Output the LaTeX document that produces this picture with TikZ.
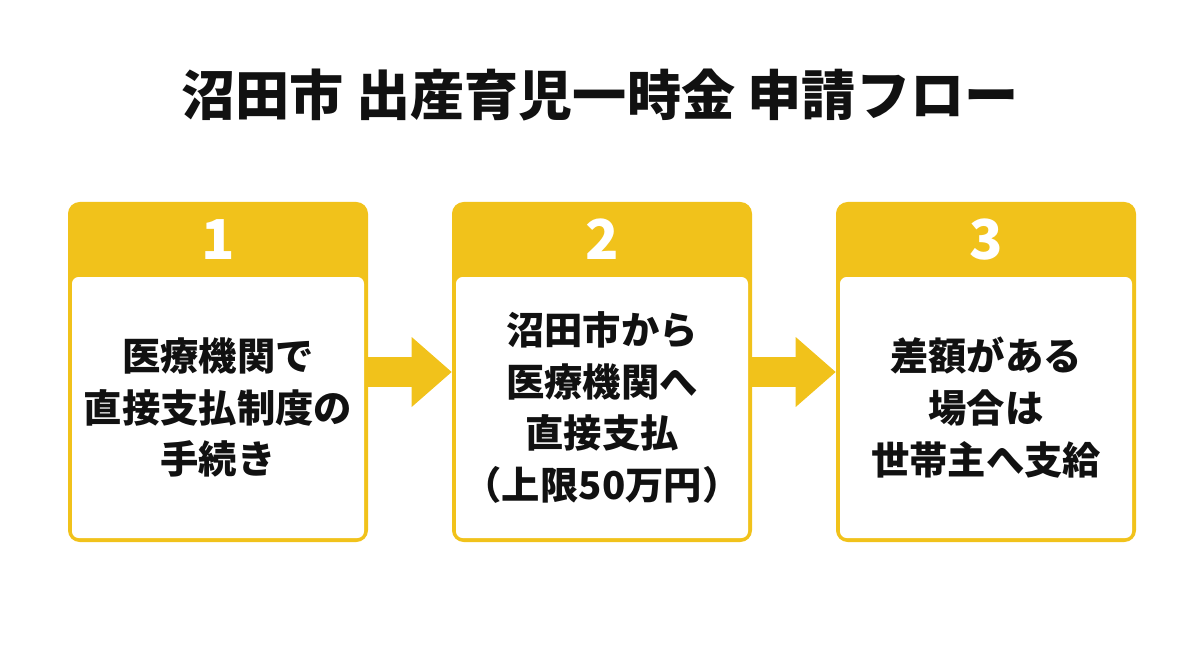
\documentclass[tikz,border=0pt]{standalone}
\usepackage{fontspec}
\setmainfont{Noto Sans CJK JP}
\usetikzlibrary{arrows.meta, positioning, calc}
\definecolor{flowyellow}{HTML}{F1C21B}
\definecolor{ink}{HTML}{111111}

\begin{document}
\begin{tikzpicture}[
  node distance=50pt,
  frame/.style={fill=flowyellow, rounded corners=7pt, minimum width=180pt, minimum height=204pt,
              inner sep=0pt},
  body/.style={fill=white, rounded corners=4pt, minimum width=175.2pt, minimum height=156.6pt,
              inner sep=0pt, align=center, text=ink, font=\fontsize{23}{31}\selectfont\bfseries},
  num/.style={text=white, font=\fontsize{33}{33}\selectfont\bfseries},
  arr/.style={draw=flowyellow, line width=18pt, -{Triangle[length=24pt, width=42pt, line width=0pt]}}
]
\useasboundingbox (0,0) rectangle (720pt,-393pt);

\node[text=ink, font=\fontsize{32.5}{36}\selectfont\bfseries] (title) at (360pt,-57pt)
  {沼田市 出産育児一時金 申請フロー};

\node[frame] (step1) at (130.8pt,-223.2pt) {};
\node[frame, right=of step1] (step2) {};
\node[frame, right=of step2] (step3) {};

\node[body, above=2.4pt of step1.south] (body1) {医療機関で\\直接支払制度の\\手続き};
\node[body, above=2.4pt of step2.south] (body2) {沼田市から\\医療機関へ\\直接支払\\（上限50万円）};
\node[body, above=2.4pt of step3.south] (body3) {差額がある\\場合は\\世帯主へ支給};

\node[num] (num1) at ($(step1.north)!0.5!(body1.north)$) {1};
\node[num] (num2) at ($(step2.north)!0.5!(body2.north)$) {2};
\node[num] (num3) at ($(step3.north)!0.5!(body3.north)$) {3};

\draw[arr] (step1) -- (step2);
\draw[arr] (step2) -- (step3);

\end{tikzpicture}
\end{document}
